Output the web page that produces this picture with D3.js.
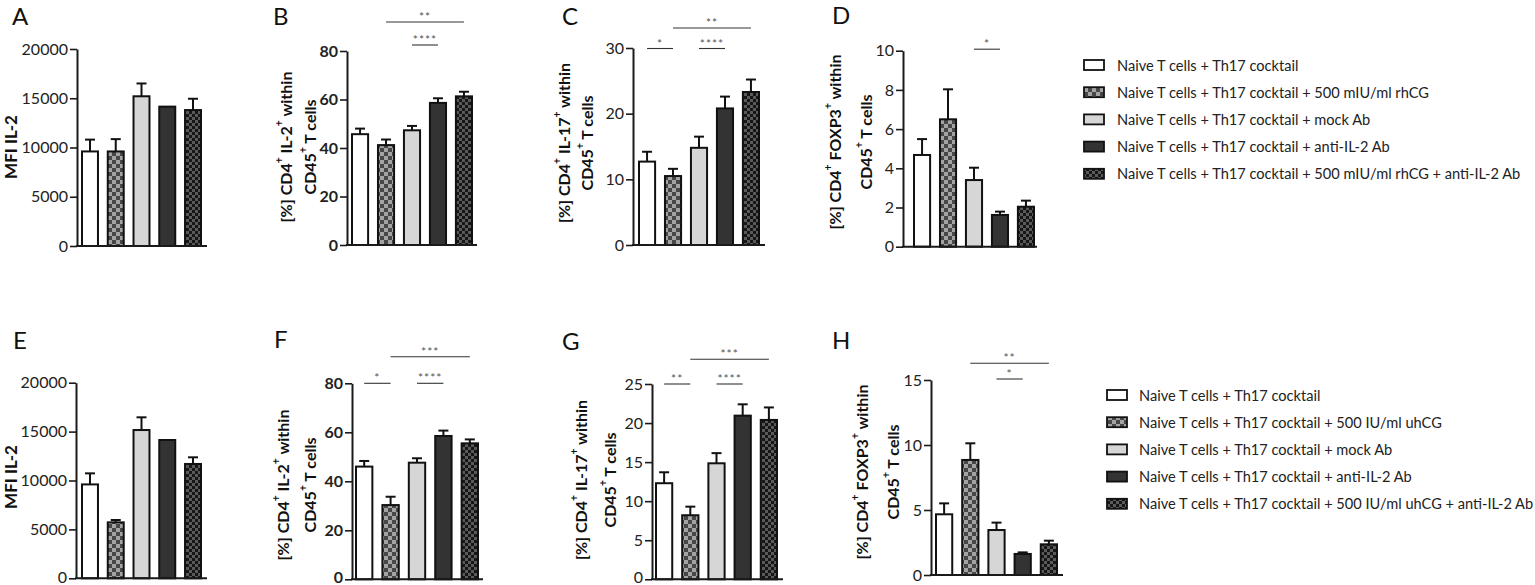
<!DOCTYPE html>
<html><head><meta charset="utf-8">
<script src="https://cdn.jsdelivr.net/npm/d3@7"></script>
<style>
html,body{margin:0;padding:0;background:#fff;}
svg{display:block;}
text{font-family:Lato,"Open Sans",sans-serif;}
</style></head><body>
<svg id="chart" width="1535" height="585"></svg>
<script>
// ================= DATA =================
const groupsTop = [
  "Naive T cells + Th17 cocktail",
  "Naive T cells + Th17 cocktail + 500 mIU/ml rhCG",
  "Naive T cells + Th17 cocktail + mock Ab",
  "Naive T cells + Th17 cocktail + anti-IL-2 Ab",
  "Naive T cells + Th17 cocktail + 500 mIU/ml rhCG + anti-IL-2 Ab"
];
const groupsBottom = [
  "Naive T cells + Th17 cocktail",
  "Naive T cells + Th17 cocktail + 500 IU/ml uhCG",
  "Naive T cells + Th17 cocktail + mock Ab",
  "Naive T cells + Th17 cocktail + anti-IL-2 Ab",
  "Naive T cells + Th17 cocktail + 500 IU/ml uhCG + anti-IL-2 Ab"
];
const panelLetters = ["A","B","C","D","E","F","G","H"];

const yTitleMFI = ["MFI IL-2"];
const yTitleIL2 = ["[%] CD4^+ IL-2^+ within", "CD45^+ T cells"];
const yTitleIL17 = ["[%] CD4^+ IL-17^+ within", "CD45^+ T cells"];
const yTitleFoxp3 = ["[%] CD4^+ FOXP3^+ within", "CD45^+ T cells"];

const mfiIL2Top = [9600, 9600, 15200, 14150, 13800];
const mfiIL2TopErr = [1200, 1250, 1300, 0, 1150];
const il2Top = [45.7, 41.2, 47.3, 58.6, 61.3];
const il2TopErr = [2.3, 2.3, 1.8, 1.9, 1.9];
const il17Top = [12.7, 10.5, 14.8, 20.8, 23.3];
const il17TopErr = [1.5, 1.1, 1.7, 1.8, 1.9];
const foxp3Top = [4.68, 6.5, 3.4, 1.62, 2.04];
const foxp3TopErr = [0.81, 1.53, 0.63, 0.17, 0.31];

const mfiIL2Bottom = [9600, 5720, 15160, 14140, 11690];
const mfiIL2BottomErr = [1130, 240, 1300, 0, 680];
const il2Bottom = [46.0, 30.3, 47.6, 58.5, 55.5];
const il2BottomErr = [2.3, 3.4, 1.8, 2.2, 1.6];
const il17Bottom = [12.3, 8.2, 14.85, 20.95, 20.4];
const il17BottomErr = [1.4, 1.1, 1.3, 1.45, 1.6];
const foxp3Bottom = [4.67, 8.85, 3.46, 1.62, 2.36];
const foxp3BottomErr = [0.84, 1.28, 0.57, 0.12, 0.28];

const ticksMFI = [0, 5000, 10000, 15000, 20000];
const ticksIL2 = [0, 20, 40, 60, 80];
const ticksIL17Top = [0, 10, 20, 30];
const ticksFoxp3Top = [0, 2, 4, 6, 8, 10];
const ticksIL17Bottom = [0, 5, 10, 15, 20, 25];
const ticksFoxp3Bottom = [0, 5, 10, 15];

// significance brackets: [fromGroup, toGroup, label, level]
const sigA = [];
const sigB = [[2, 3, "****", 0], [1, 4, "**", 1]];
const sigC = [[0, 1, "*", 0], [2, 3, "****", 0], [1, 4, "**", 1]];
const sigD = [[2, 3, "*", 0]];
const sigE = [];
const sigF = [[0, 1, "*", 0], [2, 3, "****", 0], [1, 4, "***", 1]];
const sigG = [[0, 1, "**", 0], [2, 3, "****", 0], [1, 4, "***", 1]];
const sigH = [[2, 3, "*", 0], [1, 4, "**", 1]];

// ================= LAYOUT / STYLE =================
const panels = [
  {letter:panelLetters[0], vals:mfiIL2Top, errs:mfiIL2TopErr, ticks:ticksMFI, title:yTitleMFI, sig:sigA,
   frame:{ax:77, top:49, bot:246, b0:82, b1:201, end:207}, lab:[12,25], tl:[9.5], ty:147, bold:false, sigY:[0,0]},
  {letter:panelLetters[1], vals:il2Top, errs:il2TopErr, ticks:ticksIL2, title:yTitleIL2, sig:sigB,
   frame:{ax:347, top:51, bot:245, b0:352, b1:472, end:477}, lab:[273,25], tl:[285,309], ty:147, bold:true, sigY:[-6,-29]},
  {letter:panelLetters[2], vals:il17Top, errs:il17TopErr, ticks:ticksIL17Top, title:yTitleIL17, sig:sigC,
   frame:{ax:633, top:48, bot:245, b0:639, b1:759, end:765}, lab:[562,25], tl:[563,586], ty:143, bold:false, sigY:[0.5,-20]},
  {letter:panelLetters[3], vals:foxp3Top, errs:foxp3TopErr, ticks:ticksFoxp3Top, title:yTitleFoxp3, sig:sigD,
   frame:{ax:903, top:50.7, bot:246.7, b0:914, b1:1034, end:1037}, lab:[832,24], tl:[834,865], ty:142, bold:false, sigY:[-1.5,-20]},
  {letter:panelLetters[4], vals:mfiIL2Bottom, errs:mfiIL2BottomErr, ticks:ticksMFI, title:yTitleMFI, sig:sigE,
   frame:{ax:76, top:382.7, bot:578.3, b0:82, b1:201, end:207}, lab:[13,349], tl:[9.5], ty:477, bold:false, sigY:[0,0]},
  {letter:panelLetters[5], vals:il2Bottom, errs:il2BottomErr, ticks:ticksIL2, title:yTitleIL2, sig:sigF,
   frame:{ax:352, top:383.3, bot:579.3, b0:356, b1:478, end:483}, lab:[274,348], tl:[282,309], ty:485, bold:true, sigY:[0,-26.6]},
  {letter:panelLetters[6], vals:il17Bottom, errs:il17BottomErr, ticks:ticksIL17Bottom, title:yTitleIL17, sig:sigG,
   frame:{ax:652, top:384, bot:579.3, b0:656, b1:777, end:783}, lab:[562,350], tl:[580,609], ty:480, bold:false, sigY:[0,-24.7]},
  {letter:panelLetters[7], vals:foxp3Bottom, errs:foxp3BottomErr, ticks:ticksFoxp3Bottom, title:yTitleFoxp3, sig:sigH,
   frame:{ax:931, top:380, bot:575, b0:936, b1:1057, end:1063}, lab:[832,349], tl:[861,892], ty:472, bold:false, sigY:[-1,-16.7]}
];
const legends = [
  {labels:groupsTop, sx:1084, tx:1117, y0:65, step:27.2},
  {labels:groupsBottom, sx:1107, tx:1139, y0:395, step:27.2}
];
const canvasH = 585;

const svg = d3.select("#chart");
const defs = svg.append("defs");
function checker(id, bg, fg, s){
  const p = defs.append("pattern").attr("id", id).attr("patternUnits","userSpaceOnUse")
    .attr("width", 2*s).attr("height", 2*s);
  p.append("rect").attr("width", 2*s).attr("height", 2*s).attr("fill", bg);
  p.append("rect").attr("width", s).attr("height", s).attr("fill", fg);
  p.append("rect").attr("x", s).attr("y", s).attr("width", s).attr("height", s).attr("fill", fg);
}
checker("chkGray", "#a3a3a3", "#474747", 4);
checker("chkDark", "#5a5a5a", "#161616", 3);
const fills = ["#ffffff", "url(#chkGray)", "#d6d6d6", "#333333", "url(#chkDark)"];

function addRich(textSel, str, fs){
  const parts = str.split("^+");
  parts.forEach((p, i) => {
    textSel.append("tspan").text(p);
    if (i < parts.length - 1) {
      textSel.append("tspan").attr("baseline-shift", "super").attr("font-size", fs*0.65).text("+");
    }
  });
}

panels.forEach(P => {
  const f = P.frame;
  const g = svg.append("g");
  const idx = d3.range(P.vals.length);
  const x = d3.scaleBand().domain(idx).range([f.b0, f.b1]).paddingInner(0.38).paddingOuter(0);
  const y = d3.scaleLinear().domain([0, d3.max(P.ticks)]).range([f.bot, f.top]);

  // panel letter
  g.append("text").attr("x", P.lab[0]).attr("y", P.lab[1]).attr("font-size", 24).attr("fill", "#111").text(P.letter);

  // bars
  g.selectAll("rect.bar").data(idx).join("rect").attr("class","bar")
    .attr("x", i => x(i)).attr("y", i => y(P.vals[i]))
    .attr("width", x.bandwidth()).attr("height", i => f.bot - y(P.vals[i]))
    .attr("fill", i => fills[i]).attr("stroke", "#111").attr("stroke-width", 2);

  // error bars (upper only)
  idx.filter(i => P.errs[i] > 0).forEach(i => {
    const cx = x(i) + x.bandwidth()/2;
    const y1 = y(P.vals[i]), y2 = y(P.vals[i] + P.errs[i]);
    g.append("line").attr("x1", cx).attr("x2", cx).attr("y1", y1).attr("y2", y2).attr("stroke", "#111").attr("stroke-width", 2);
    g.append("line").attr("x1", cx-5).attr("x2", cx+5).attr("y1", y2).attr("y2", y2).attr("stroke", "#111").attr("stroke-width", 2);
  });

  // y axis
  const ax = g.append("g").attr("transform", `translate(${f.ax},0)`)
    .call(d3.axisLeft(y).tickValues(P.ticks).tickSize(7).tickSizeOuter(0).tickPadding(2).tickFormat(d3.format("d")));
  ax.select(".domain").attr("stroke", "#1a1a1a").attr("stroke-width", 2);
  ax.selectAll(".tick line").attr("stroke", "#1a1a1a").attr("stroke-width", 1.6);
  ax.selectAll(".tick text").attr("font-family", "Lato,'Open Sans',sans-serif").attr("font-size", 16)
    .attr("fill", "#222").attr("font-weight", P.bold ? 700 : 400)
    .attr("y", d => Math.min(0, canvasH - 7.5 - y(d)));

  // x axis baseline
  g.append("line").attr("x1", f.ax - 1).attr("x2", f.end).attr("y1", f.bot).attr("y2", f.bot)
    .attr("stroke", "#1a1a1a").attr("stroke-width", 2);

  // y title
  const tfs = P.title.length === 1 ? 17 : 16;
  P.title.forEach((line, k) => {
    const t = g.append("text").attr("transform", `translate(${P.tl[k]},${P.ty}) rotate(-90)`)
      .attr("text-anchor", "middle").attr("dominant-baseline", "central")
      .attr("font-size", tfs).attr("font-weight", 700).attr("fill", "#111");
    addRich(t, line, tfs);
  });

  // significance
  P.sig.forEach(s => {
    const xa = x(s[0]) + x.bandwidth()/2, xb = x(s[1]) + x.bandwidth()/2;
    const ly = f.top + P.sigY[s[3]];
    g.append("line").attr("x1", xa).attr("x2", xb).attr("y1", ly).attr("y2", ly).attr("stroke", "#333").attr("stroke-width", 1.1);
    g.append("text").attr("x", (xa+xb)/2).attr("y", ly - 1).attr("text-anchor", "middle")
      .attr("font-family", "'DejaVu Sans',sans-serif").attr("letter-spacing", 1)
      .attr("font-size", 12).attr("fill", "#555").text(s[2]);
  });
});

// legends
legends.forEach(L => {
  const g = svg.append("g");
  L.labels.forEach((lab, i) => {
    const cy = L.y0 + i*L.step;
    g.append("rect").attr("x", L.sx).attr("y", cy - 5).attr("width", 20).attr("height", 10)
      .attr("fill", fills[i]).attr("stroke", "#111").attr("stroke-width", 1.8);
    g.append("text").attr("x", L.tx).attr("y", cy).attr("dominant-baseline", "central")
      .attr("font-size", 14.6).attr("fill", "#222").text(lab);
  });
});
</script>
</body></html>
